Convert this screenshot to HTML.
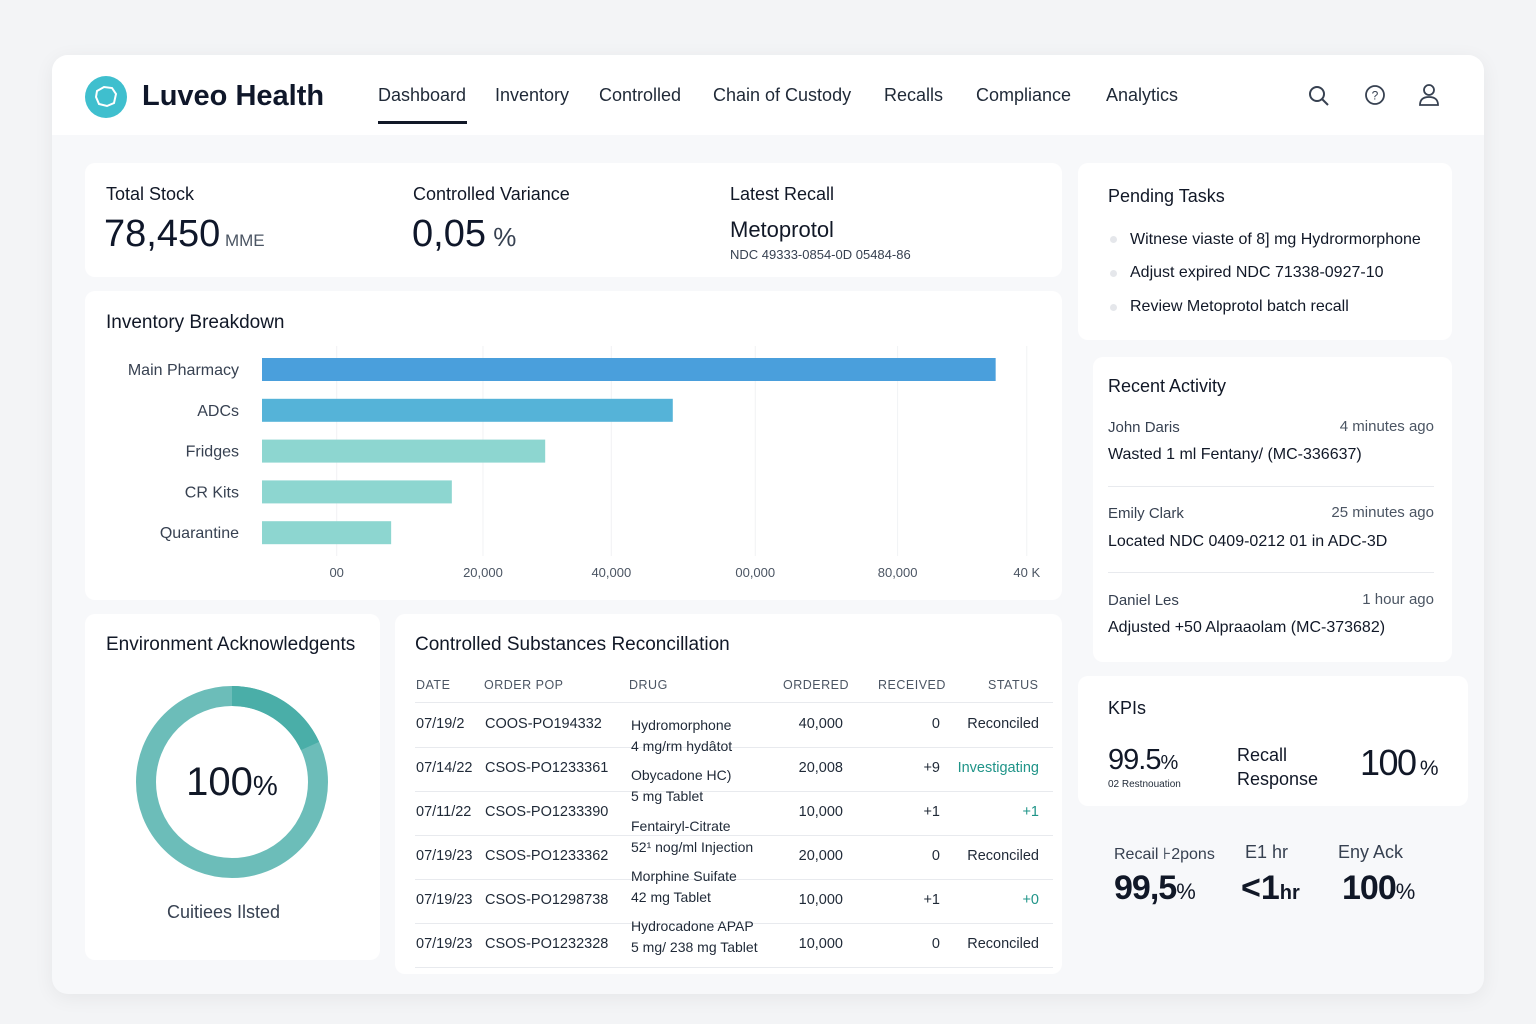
<!DOCTYPE html>
<html><head><meta charset="utf-8">
<style>
*{box-sizing:border-box;margin:0;padding:0}
body{width:1536px;height:1024px;background:#f3f4f6;font-family:"Liberation Sans",sans-serif;color:#111827;position:relative;overflow:hidden}
.abs{position:absolute}
.app{position:absolute;left:52px;top:55px;width:1432px;height:939px;background:#f7f8fa;border-radius:16px;box-shadow:0 4px 20px rgba(0,0,0,0.06);overflow:hidden}
.hdr{position:absolute;left:0;top:0;width:1432px;height:80px;background:#fff}
.card{position:absolute;background:#fff;border-radius:10px}
.nav{position:absolute;top:30px;font-size:18px;color:#1f2937}
.t{position:absolute;white-space:nowrap}
.th{font-size:12.5px;color:#4b5563;letter-spacing:.5px}
.td{font-size:14.5px;color:#1f2937}
.hl{position:absolute;height:1px;background:#e8eaee}
</style></head><body>
<div class="app">
 <div class="hdr">
  <svg class="abs" style="left:32px;top:20px" width="44" height="44"><circle cx="22" cy="22" r="21" fill="#3fbfce"/><path d="M13 16 L20 12 L28 13 L32 19 L30 28 L23 31 L15 29 L12 22 Z" fill="none" stroke="#fff" stroke-width="2"/></svg>
  <div class="t" style="left:90px;top:25px;font-size:29px;font-weight:bold;color:#0f172a">Luveo Health</div>
  <div class="nav" style="left:326px">Dashboard</div>
  <div class="abs" style="left:326px;top:66px;width:89px;height:3px;background:#111827"></div>
  <div class="nav" style="left:443px">Inventory</div>
  <div class="nav" style="left:547px">Controlled</div>
  <div class="nav" style="left:661px">Chain of Custody</div>
  <div class="nav" style="left:832px">Recalls</div>
  <div class="nav" style="left:924px">Compliance</div>
  <div class="nav" style="left:1054px">Analytics</div>
  <svg class="abs" style="left:1255px;top:29px" width="24" height="24"><circle cx="10" cy="10" r="7" fill="none" stroke="#374151" stroke-width="2"/><line x1="15" y1="15" x2="21" y2="21" stroke="#374151" stroke-width="2"/></svg>
  <svg class="abs" style="left:1312px;top:29px" width="24" height="24"><circle cx="11" cy="11" r="9" fill="none" stroke="#374151" stroke-width="1.8"/><text x="11" y="15.5" font-size="12" text-anchor="middle" fill="#374151" font-family="Liberation Sans">?</text></svg>
  <svg class="abs" style="left:1365px;top:27px" width="24" height="26"><circle cx="12" cy="8" r="5" fill="none" stroke="#374151" stroke-width="1.8"/><path d="M3 23 Q3 15 12 15 Q21 15 21 23 Z" fill="none" stroke="#374151" stroke-width="1.8"/></svg>
 </div>

 <div class="card" style="left:33px;top:108px;width:977px;height:114px">
  <div class="t" style="left:21px;top:21px;font-size:18px">Total Stock</div>
  <div class="t" style="left:19px;top:50px;font-size:38px;color:#0f172a">78,450<span style="font-size:17px;color:#4b5563"> MME</span></div>
  <div class="t" style="left:328px;top:21px;font-size:18px">Controlled Variance</div>
  <div class="t" style="left:327px;top:50px;font-size:38px;color:#0f172a">0,05<span style="font-size:26px;color:#374151"> %</span></div>
  <div class="t" style="left:645px;top:21px;font-size:18px">Latest Recall</div>
  <div class="t" style="left:645px;top:54px;font-size:22px">Metoprotol</div>
  <div class="t" style="left:645px;top:84px;font-size:13px;color:#374151">NDC 49333-0854-0D 05484-86</div>
 </div>

 <div class="card" style="left:33px;top:236px;width:977px;height:309px">
  <div class="t" style="left:21px;top:21px;font-size:19px">Inventory Breakdown</div>
  <svg id="bar" class="abs" style="left:0;top:0" width="977" height="309"></svg>
 </div>

 <div class="card" style="left:33px;top:559px;width:295px;height:346px">
  <div class="t" style="left:21px;top:20px;font-size:19px">Environment Acknowledgents</div>
  <svg class="abs" style="left:47px;top:68px" width="200" height="200">
   <circle cx="100" cy="100" r="86" fill="none" stroke="#6cbdb9" stroke-width="20"/>
   <path d="M100 14 A86 86 0 0 1 178 64" fill="none" stroke="#4aaea8" stroke-width="20"/>
   <text x="100" y="113" text-anchor="middle" font-size="40" fill="#111827" font-family="Liberation Sans">100<tspan font-size="28">%</tspan></text>
  </svg>
  <div class="t" style="left:82px;top:288px;font-size:18px;color:#374151">Cuitiees Ilsted</div>
 </div>

 <div class="card" style="left:343px;top:559px;width:667px;height:360px">
  <div class="t" style="left:20px;top:20px;font-size:19px">Controlled Substances Reconcillation</div>
  <div>
  <div class="t th" style="left:21px;top:64px">DATE</div>
  <div class="t th" style="left:89px;top:64px">ORDER POP</div>
  <div class="t th" style="left:234px;top:64px">DRUG</div>
  <div class="t th" style="left:388px;top:64px">ORDERED</div>
  <div class="t th" style="left:483px;top:64px">RECEIVED</div>
  <div class="t th" style="left:593px;top:64px">STATUS</div>
  <div class="hl" style="left:20px;top:88px;width:638px"></div>
  <div id="rows"></div>
  </div>
 </div>

 <div class="card" style="left:1026px;top:108px;width:374px;height:177px">
  <div class="t" style="left:30px;top:23px;font-size:18px">Pending Tasks</div>
  <div class="abs" style="left:32px;top:73px;width:7px;height:7px;border-radius:50%;background:#e5e7eb"></div>
  <div class="t" style="left:52px;top:68px;font-size:16px">Witnese viaste of 8] mg Hydrormorphone</div>
  <div class="abs" style="left:32px;top:107px;width:7px;height:7px;border-radius:50%;background:#e5e7eb"></div>
  <div class="t" style="left:52px;top:101px;font-size:16px">Adjust expired NDC 71338-0927-10</div>
  <div class="abs" style="left:32px;top:141px;width:7px;height:7px;border-radius:50%;background:#e5e7eb"></div>
  <div class="t" style="left:52px;top:135px;font-size:16px">Review Metoprotol batch recall</div>
 </div>

 <div class="card" style="left:1041px;top:302px;width:359px;height:305px">
  <div class="t" style="left:15px;top:19px;font-size:18px">Recent Activity</div>
  <div class="t" style="left:15px;top:62px;font-size:15px;color:#374151">John Daris</div>
  <div class="t" style="right:18px;top:61px;font-size:15px;color:#4b5563">4 minutes ago</div>
  <div class="t" style="left:15px;top:89px;font-size:16px">Wasted 1 ml Fentany/ (MC-336637)</div>
  <div class="hl" style="left:15px;top:129px;width:326px"></div>
  <div class="t" style="left:15px;top:148px;font-size:15px;color:#374151">Emily Clark</div>
  <div class="t" style="right:18px;top:147px;font-size:15px;color:#4b5563">25 minutes ago</div>
  <div class="t" style="left:15px;top:176px;font-size:16px">Located NDC 0409-0212  01 in ADC-3D</div>
  <div class="hl" style="left:15px;top:215px;width:326px"></div>
  <div class="t" style="left:15px;top:235px;font-size:15px;color:#374151">Daniel Les</div>
  <div class="t" style="right:18px;top:234px;font-size:15px;color:#4b5563">1 hour ago</div>
  <div class="t" style="left:15px;top:262px;font-size:16px">Adjusted +50 Alpraaolam (MC-373682)</div>
 </div>

 <div class="card" style="left:1026px;top:621px;width:390px;height:130px">
  <div class="t" style="left:30px;top:22px;font-size:18px">KPIs</div>
  <div class="t" style="left:30px;top:68px;font-size:29px;letter-spacing:-1px">99.5<span style="font-size:20px">%</span></div>
  <div class="t" style="left:30px;top:103px;font-size:10px;color:#1f2937">02 Restnouation</div>
  <div class="t" style="left:159px;top:67px;font-size:18px;line-height:24px">Recall<br>Response</div>
  <div class="t" style="left:282px;top:66px;font-size:36px;letter-spacing:-1.5px">100<span style="font-size:21px"> %</span></div>
 </div>
 <div class="t" style="left:1062px;top:789px;font-size:16px;color:#374151">Recail ⊦2pons</div>
 <div class="t" style="left:1062px;top:814px;font-size:34px;font-weight:bold;color:#111827;letter-spacing:-1px">99,5<span style="font-size:22px;font-weight:normal">%</span></div>
 <div class="t" style="left:1193px;top:787px;font-size:18px;color:#374151">E1 hr</div>
 <div class="t" style="left:1189px;top:814px;font-size:34px;font-weight:bold;color:#111827">&lt;1<span style="font-size:20px">hr</span></div>
 <div class="t" style="left:1286px;top:787px;font-size:18px;color:#374151">Eny  Ack</div>
 <div class="t" style="left:1290px;top:814px;font-size:34px;font-weight:bold;color:#111827;letter-spacing:-1px">100<span style="font-size:22px;font-weight:normal">%</span></div>
</div>

<script>
const categories = ["Main Pharmacy","ADCs","Fridges","CR Kits","Quarantine"];
const values = [94300, 52800, 36400, 24400, 16600];
const tickValues = [9600, 28400, 44900, 63400, 81700, 98300];
const tickLabels = ["00","20,000","40,000","00,000","80,000","40 K"];
const barColors = ["#4a9fdc","#55b3d8","#8dd6d0","#8dd6d0","#8dd6d0"];

const NS = "http://www.w3.org/2000/svg";
const svg = document.getElementById("bar");
const x0 = 177, x1 = 955, xMax = 100000;
const xs = v => x0 + (v / xMax) * (x1 - x0);
const yTop = 67, band = 40.8, barH = 23;
function mk(tag, attrs){const e=document.createElementNS(NS,tag);for(const k in attrs)e.setAttribute(k,attrs[k]);svg.appendChild(e);return e;}
tickValues.forEach((v,i)=>{
  const g = mk("line",{x1:xs(v),x2:xs(v),y1:55,y2:265,stroke:"#f1f2f4","stroke-width":1});
  
  
  const t = mk("text",{x:xs(v),y:286,"text-anchor":"middle","font-size":13,fill:"#4b5563","font-family":"Liberation Sans"});
  t.textContent = tickLabels[i];
  
  
});
categories.forEach((c,i)=>{
  const y = yTop + i*band;
  const r = mk("rect",{x:xs(0),y:y,width:xs(values[i])-xs(0),height:barH,fill:barColors[i]});
  
  
  const t = mk("text",{x:154,y:y+17,"text-anchor":"end","font-size":16,fill:"#374151","font-family":"Liberation Sans"});
  t.textContent = c;
  
  
});

const rows = [
 ["07/19/2","COOS-PO194332","40,000","0","Reconciled",false],
 ["07/14/22","CSOS-PO1233361","20,008","+9","Investigating",true],
 ["07/11/22","CSOS-PO1233390","10,000","+1","+1",true],
 ["07/19/23","CSOS-PO1233362","20,000","0","Reconciled",false],
 ["07/19/23","CSOS-PO1298738","10,000","+1","+0",true],
 ["07/19/23","CSOS-PO1232328","10,000","0","Reconciled",false]
];
const box = document.getElementById("rows");
function cell(txt, style, name){const d=document.createElement("div");d.className="t td";d.style.cssText=style;d.textContent=txt;
 
 
 box.appendChild(d);}
rows.forEach((r,i)=>{
  const y = 102 + i*44;
  cell(r[0],`left:21px;top:${y}px`,'cell-date');
  cell(r[1],`left:90px;top:${y}px`,'cell-order');
  cell(r[2],`right:219px;top:${y}px`,'cell-ordered');
  cell(r[3],`right:122px;top:${y}px`,'cell-received');
  cell(r[4],`right:23px;top:${y}px;color:${r[5]?'#1f9488':'#1f2937'}`,'cell-status');
  const ln = document.createElement("div");ln.className="hl";ln.style.cssText=`left:20px;top:${y+31}px;width:638px`;box.appendChild(ln);
});
const drugs = [["Hydromorphone","4 mg/rm hydâtot"],["Obycadone HC)","5 mg Tablet"],["Fentairyl-Citrate","52¹ nog/ml Injection"],["Morphine Suifate","42 mg Tablet"],["Hydrocadone APAP","5 mg/ 238 mg Tablet"]];
drugs.forEach((d,i)=>{
  const y = 103 + i*50.3;
  cell(d[0],`left:236px;top:${y}px;font-size:14px`,'cell-drug-name');
  cell(d[1],`left:236px;top:${y+21}px;font-size:14px`,'cell-drug-form');
});
</script>
</body></html>
